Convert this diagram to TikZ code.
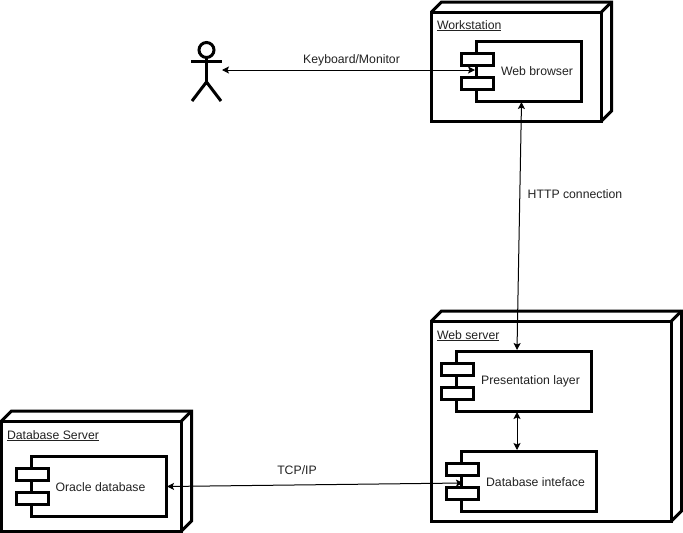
\documentclass[tikz,border=0pt]{standalone}
\usepackage{fontspec}
\setmainfont{Liberation Sans}
\usetikzlibrary{arrows.meta}
\definecolor{txt}{HTML}{222222}
\tikzset{
  x=1pt,y=-1pt,
  heavy/.style={draw=black,line width=3pt,line join=miter,fill=white},
  comp/.style={heavy,inner sep=0pt,outer sep=0pt,rectangle},
  tab/.style={comp,minimum width=32pt,minimum height=12pt},
  lbl/.style={text=txt,font=\fontsize{12.25}{14}\selectfont,inner sep=0pt,outer sep=0pt,yshift=-0.7pt},
  head/.style={lbl,anchor=west},
  link/.style={draw=black,line width=1pt,{Stealth[length=7pt,width=7pt,inset=1.5pt]}-{Stealth[length=7pt,width=7pt,inset=1.5pt]}}
}
\newcommand{\cube}[5]{% name, x1,y1,x2,y2 of the front face
  \draw[heavy] (#2,#3) -- (#2+10,#3-10) -- (#4+10,#3-10) -- (#4+10,#5-10) -- (#4,#5) -- (#2,#5) -- cycle;
  \node[comp,minimum width=#4-#2,minimum height=#5-#3] (#1) at ({(#2+#4)/2},{(#3+#5)/2}) {};
  \draw[heavy] (#4,#3) -- (#4+10,#3-10);
}
\begin{document}
\begin{tikzpicture}
\useasboundingbox (0,0) rectangle (683,533);
\fill[white] (0,0) rectangle (683,533);

% deployment nodes
\cube{workstation}{431.5}{12}{601.5}{121}
\cube{webserver}{431.5}{321}{671.5}{521}
\cube{dbserver}{1.5}{421}{181.5}{531}

\node[head] (tw) at (437,25) {\underline{Workstation}};
\node[head] (ts) at (437,335) {\underline{Web server}};
\node[head] (td) at (7,435) {\underline{Database Server}};

% components
\node[comp,minimum width=105pt,minimum height=60pt] (browser) at (529,71) {};
\node[tab] (b1) at (477,59) {};
\node[tab] (b2) at (477,83) {};
\node[lbl] (tb) at (537,70.5) {Web browser};

\node[comp,minimum width=135pt,minimum height=60pt] (pres) at (524,381) {};
\node[tab] (p1) at (457,369) {};
\node[tab] (p2) at (457,393) {};
\node[lbl] (tp) at (530.5,380.5) {Presentation layer};

\node[comp,minimum width=135pt,minimum height=60pt] (dbi) at (529,481) {};
\node[tab] (d1) at (462,469) {};
\node[tab] (d2) at (462,493) {};
\node[lbl] (ti) at (535.5,481) {Database inteface};

\node[comp,minimum width=135pt,minimum height=60pt] (oracle) at (99,486.5) {};
\node[tab] (o1) at (32,474) {};
\node[tab] (o2) at (32,498) {};
\node[lbl] (to) at (100.5,486) {Oracle database};

% actor
\node[draw=black,line width=3pt,circle,minimum size=15pt,inner sep=0pt,outer sep=0pt] (ahead) at (206.5,50) {};
\coordinate (ahip) at (206.5,82);
\coordinate (aarmL) at (191,61);
\coordinate (aarmR) at (221.5,61);
\coordinate (alegL) at (192,101);
\coordinate (alegR) at (221,101);
\draw[black,line width=3pt] (ahead.south) -- (ahip);
\draw[black,line width=3pt] (aarmL) -- (aarmR);
\draw[black,line width=3pt] (alegL) -- (ahip) -- (alegR);

% connectors
\coordinate (kbA) at (222,70);
\coordinate (kbB) at (475,70);
\coordinate (httpA) at (521.5,102);
\coordinate (httpB) at (517,350);
\coordinate (innerA) at (517,412);
\coordinate (innerB) at (517,450);
\coordinate (tcpA) at (167,486.5);
\coordinate (tcpB) at (463,483);
\draw[link] (kbA) -- (kbB);
\draw[link] (httpA) -- (httpB);
\draw[link] (innerA) -- (innerB);
\draw[link] (tcpA) -- (tcpB);

\node[lbl] (lk) at (351.5,60) {Keyboard/Monitor};
\node[lbl] (lh) at (575,193.5) {HTTP connection};
\node[lbl] (lt) at (297,469.5) {TCP/IP};
\end{tikzpicture}
\end{document}
